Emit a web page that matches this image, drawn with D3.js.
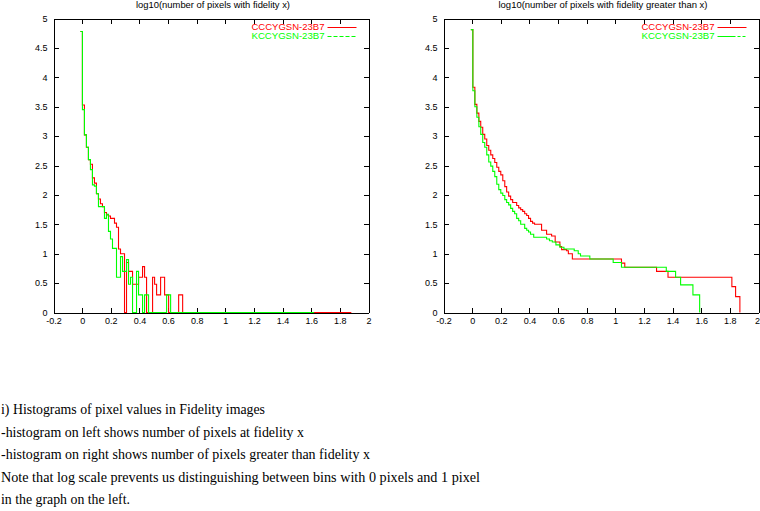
<!DOCTYPE html>
<html>
<head>
<meta charset="utf-8">
<script src="https://cdn.jsdelivr.net/npm/d3@7"></script>
<style>
  html, body { margin: 0; padding: 0; background: #fff; }
  svg { display: block; }
</style>
</head>
<body>
<svg id="chart" width="760" height="511"></svg>
<script>
// ---------------- DATA ----------------
const seriesNames = ["CCCYGSN-23B7", "KCCYGSN-23B7"];
const seriesColors = ["#ff0000", "#00ff00"];
const chartTitles = [
  "log10(number of pixels with fidelity x)",
  "log10(number of pixels with fidelity greater than x)"
];
const xTickValues = [-0.2, 0, 0.2, 0.4, 0.6, 0.8, 1, 1.2, 1.4, 1.6, 1.8, 2];
const xTickLabels = ["-0.2", "0", "0.2", "0.4", "0.6", "0.8", "1", "1.2", "1.4", "1.6", "1.8", "2"];
const yTickValues = [0, 0.5, 1, 1.5, 2, 2.5, 3, 3.5, 4, 4.5, 5];
const yTickLabels = ["0", "0.5", "1", "1.5", "2", "2.5", "3", "3.5", "4", "4.5", "5"];

// left: log10(number of pixels at fidelity x), step points [binLeftEdge, value]
const leftCCC = [[-0.012,4.78],[0.002,3.53],[0.016,3.02],[0.030,2.81],[0.044,2.60],[0.058,2.52],
  [0.072,2.29],[0.086,2.20],[0.100,2.02],[0.114,1.93],[0.128,1.85],[0.142,1.80],[0.156,1.70],
  [0.170,1.66],[0.184,1.64],[0.198,1.60],[0.226,1.52],[0.240,1.45],[0.254,1.08],[0.268,1.0],
  [0.296,0],[0.310,0.85],[0.324,0.70],[0.352,0.48],[0.394,0.60],[0.422,0.78],[0.436,0.60],
  [0.450,0],[0.492,0.60],[0.506,0.48],[0.520,0.30],[0.548,0.60],[0.576,0.30],[0.604,0],
  [0.674,0.30],[0.702,0],[1.88,0]];
const leftKCC = [[-0.012,4.78],[0.002,3.45],[0.016,3.02],[0.030,2.81],[0.044,2.60],[0.058,2.43],
  [0.072,2.17],[0.086,2.15],[0.100,2.02],[0.114,1.80],[0.156,1.60],[0.170,1.67],[0.184,1.38],
  [0.198,1.25],[0.212,1.09],[0.240,0.60],[0.268,0.95],[0.282,0.70],[0.310,0.90],[0.324,0.48],
  [0.338,0.60],[0.352,0],[0.380,0.70],[0.394,0.30],[0.422,0],[0.436,0.30],[0.464,0],
  [0.590,0.30],[0.618,0],[1.62,0]];

// right: log10(number of pixels with fidelity greater than x)
const rightCCC = [[-0.009,4.81],[0.005,3.83],[0.019,3.54],[0.033,3.39],[0.047,3.25],[0.060,3.15],
  [0.074,3.03],[0.088,2.95],[0.102,2.84],[0.116,2.76],[0.130,2.68],[0.144,2.62],[0.158,2.55],
  [0.172,2.47],[0.186,2.40],[0.200,2.34],[0.214,2.24],[0.228,2.14],[0.241,2.05],[0.255,1.98],
  [0.269,1.92],[0.283,1.87],[0.311,1.82],[0.325,1.78],[0.339,1.75],[0.353,1.72],[0.367,1.68],
  [0.381,1.65],[0.394,1.60],[0.408,1.55],[0.422,1.52],[0.436,1.50],[0.485,1.40],[0.520,1.33],
  [0.555,1.30],[0.580,1.20],[0.613,1.12],[0.625,1.07],[0.660,1.05],[0.672,1.00],[0.700,0.91],
  [1.043,0.84],[1.066,0.77],[1.288,0.70],[1.368,0.60],[1.814,0.44],[1.840,0.27],[1.870,0]];
const rightKCC = [[-0.009,4.81],[0.005,3.77],[0.019,3.50],[0.033,3.32],[0.047,3.16],[0.060,3.03],
  [0.074,2.89],[0.088,2.81],[0.102,2.68],[0.116,2.56],[0.130,2.49],[0.144,2.40],[0.158,2.31],
  [0.172,2.18],[0.186,2.09],[0.200,2.03],[0.214,1.99],[0.228,1.92],[0.241,1.87],[0.255,1.83],
  [0.269,1.77],[0.283,1.72],[0.297,1.68],[0.311,1.60],[0.325,1.56],[0.339,1.50],[0.367,1.43],
  [0.381,1.40],[0.394,1.37],[0.408,1.33],[0.430,1.28],[0.520,1.25],[0.540,1.22],[0.560,1.20],
  [0.585,1.15],[0.613,1.11],[0.641,1.08],[0.713,1.05],[0.741,1.00],[0.757,0.96],[0.822,0.91],
  [0.985,0.85],[1.043,0.77],[1.356,0.70],[1.421,0.60],[1.456,0.47],[1.542,0.30],[1.589,0]];

const captionLines = [
  "i) Histograms of pixel values in Fidelity images",
  "-histogram on left shows number of pixels at fidelity x",
  "-histogram on right shows number of pixels greater than fidelity x",
  "Note that log scale prevents us distinguishing between bins with 0 pixels and 1 pixel",
  "in the graph on the left."
];

// ---------------- DRAW ----------------
const svg = d3.select("#chart");
const FONT = "'Liberation Sans', Arial, Helvetica, sans-serif";

const panels = [
  { x0: 53.5, x1: 368.5, title: chartTitles[0], titleW: 154, data: [leftCCC, leftKCC], dash: ["", "4,2"] },
  { x0: 443.5, x1: 758.5, title: chartTitles[1], titleW: 209, data: [rightCCC, rightKCC], dash: ["", "18,2,3,2,3"] }
];
const yTop = 18.5, yBot = 312.5;

panels.forEach(p => {
  const x = d3.scaleLinear().domain([-0.2, 2]).range([p.x0, p.x1]);
  const y = d3.scaleLinear().domain([0, 5]).range([yBot, yTop]);
  const g = svg.append("g");

  const fmtX = d => xTickLabels[xTickValues.indexOf(d)];
  const fmtY = d => yTickLabels[yTickValues.indexOf(d)];

  const axB = g.append("g").attr("transform", `translate(0,${yBot})`)
    .call(d3.axisBottom(x).tickValues(xTickValues).tickFormat(fmtX).tickSizeInner(-5).tickSizeOuter(0).tickPadding(5));
  const axT = g.append("g").attr("transform", `translate(0,${yTop})`)
    .call(d3.axisTop(x).tickValues(xTickValues).tickFormat("").tickSizeInner(-5).tickSizeOuter(0));
  const axL = g.append("g").attr("transform", `translate(${p.x0},0)`)
    .call(d3.axisLeft(y).tickValues(yTickValues).tickFormat(fmtY).tickSizeInner(-5).tickSizeOuter(0).tickPadding(6));
  const axR = g.append("g").attr("transform", `translate(${p.x1},0)`)
    .call(d3.axisRight(y).tickValues(yTickValues).tickFormat("").tickSizeInner(-5).tickSizeOuter(0));
  [axB, axT, axL, axR].forEach(a => {
    a.selectAll("path,line").attr("stroke", "#000").attr("stroke-width", 1).attr("shape-rendering", "crispEdges");
    a.selectAll("text").attr("font-family", FONT).attr("font-size", 9).attr("fill", "#000");
  });
  // keep the last label inside the window
  axB.selectAll(".tick text").filter(d => d === 2 && p.x1 > 700).attr("dx", -1.5);

  // title
  g.append("text")
    .attr("x", (p.x0 + p.x1) / 2 + 2).attr("y", 8)
    .attr("text-anchor", "middle")
    .attr("font-family", FONT).attr("font-size", 9.5)
    .attr("textLength", p.titleW).attr("lengthAdjust", "spacingAndGlyphs")
    .text(p.title);

  // series
  const line = d3.line().x(d => x(d[0])).y(d => y(d[1])).curve(d3.curveStepAfter);
  p.data.forEach((ser, i) => {
    g.append("path")
      .datum(ser)
      .attr("fill", "none")
      .attr("stroke", seriesColors[i])
      .attr("stroke-width", 1.1)
      .attr("d", line);
  });

  // legend
  seriesNames.forEach((nm, i) => {
    const ly = 27 + i * 9;
    g.append("text")
      .attr("x", p.x1 - 44).attr("y", ly + 3)
      .attr("text-anchor", "end")
      .attr("font-family", FONT).attr("font-size", 8.2)
      .attr("textLength", 73).attr("lengthAdjust", "spacingAndGlyphs")
      .attr("fill", seriesColors[i])
      .text(nm);
    g.append("line")
      .attr("x1", p.x1 - 41).attr("x2", p.x1 - 12)
      .attr("y1", ly + 0.5).attr("y2", ly + 0.5)
      .attr("stroke", seriesColors[i]).attr("stroke-width", 1)
      .attr("stroke-dasharray", p.dash[i] || null);
  });
});

// caption
const capW = [264, 303, 369, 479, 129];
const capY = [414, 436.5, 459, 481.5, 504];
captionLines.forEach((t, i) => {
  svg.append("text")
    .attr("x", 1).attr("y", capY[i])
    .attr("font-family", "'Liberation Serif', 'Times New Roman', serif")
    .attr("font-size", 15.5)
    .attr("textLength", capW[i]).attr("lengthAdjust", "spacingAndGlyphs")
    .attr("fill", "#000")
    .text(t);
});
</script>
</body>
</html>
